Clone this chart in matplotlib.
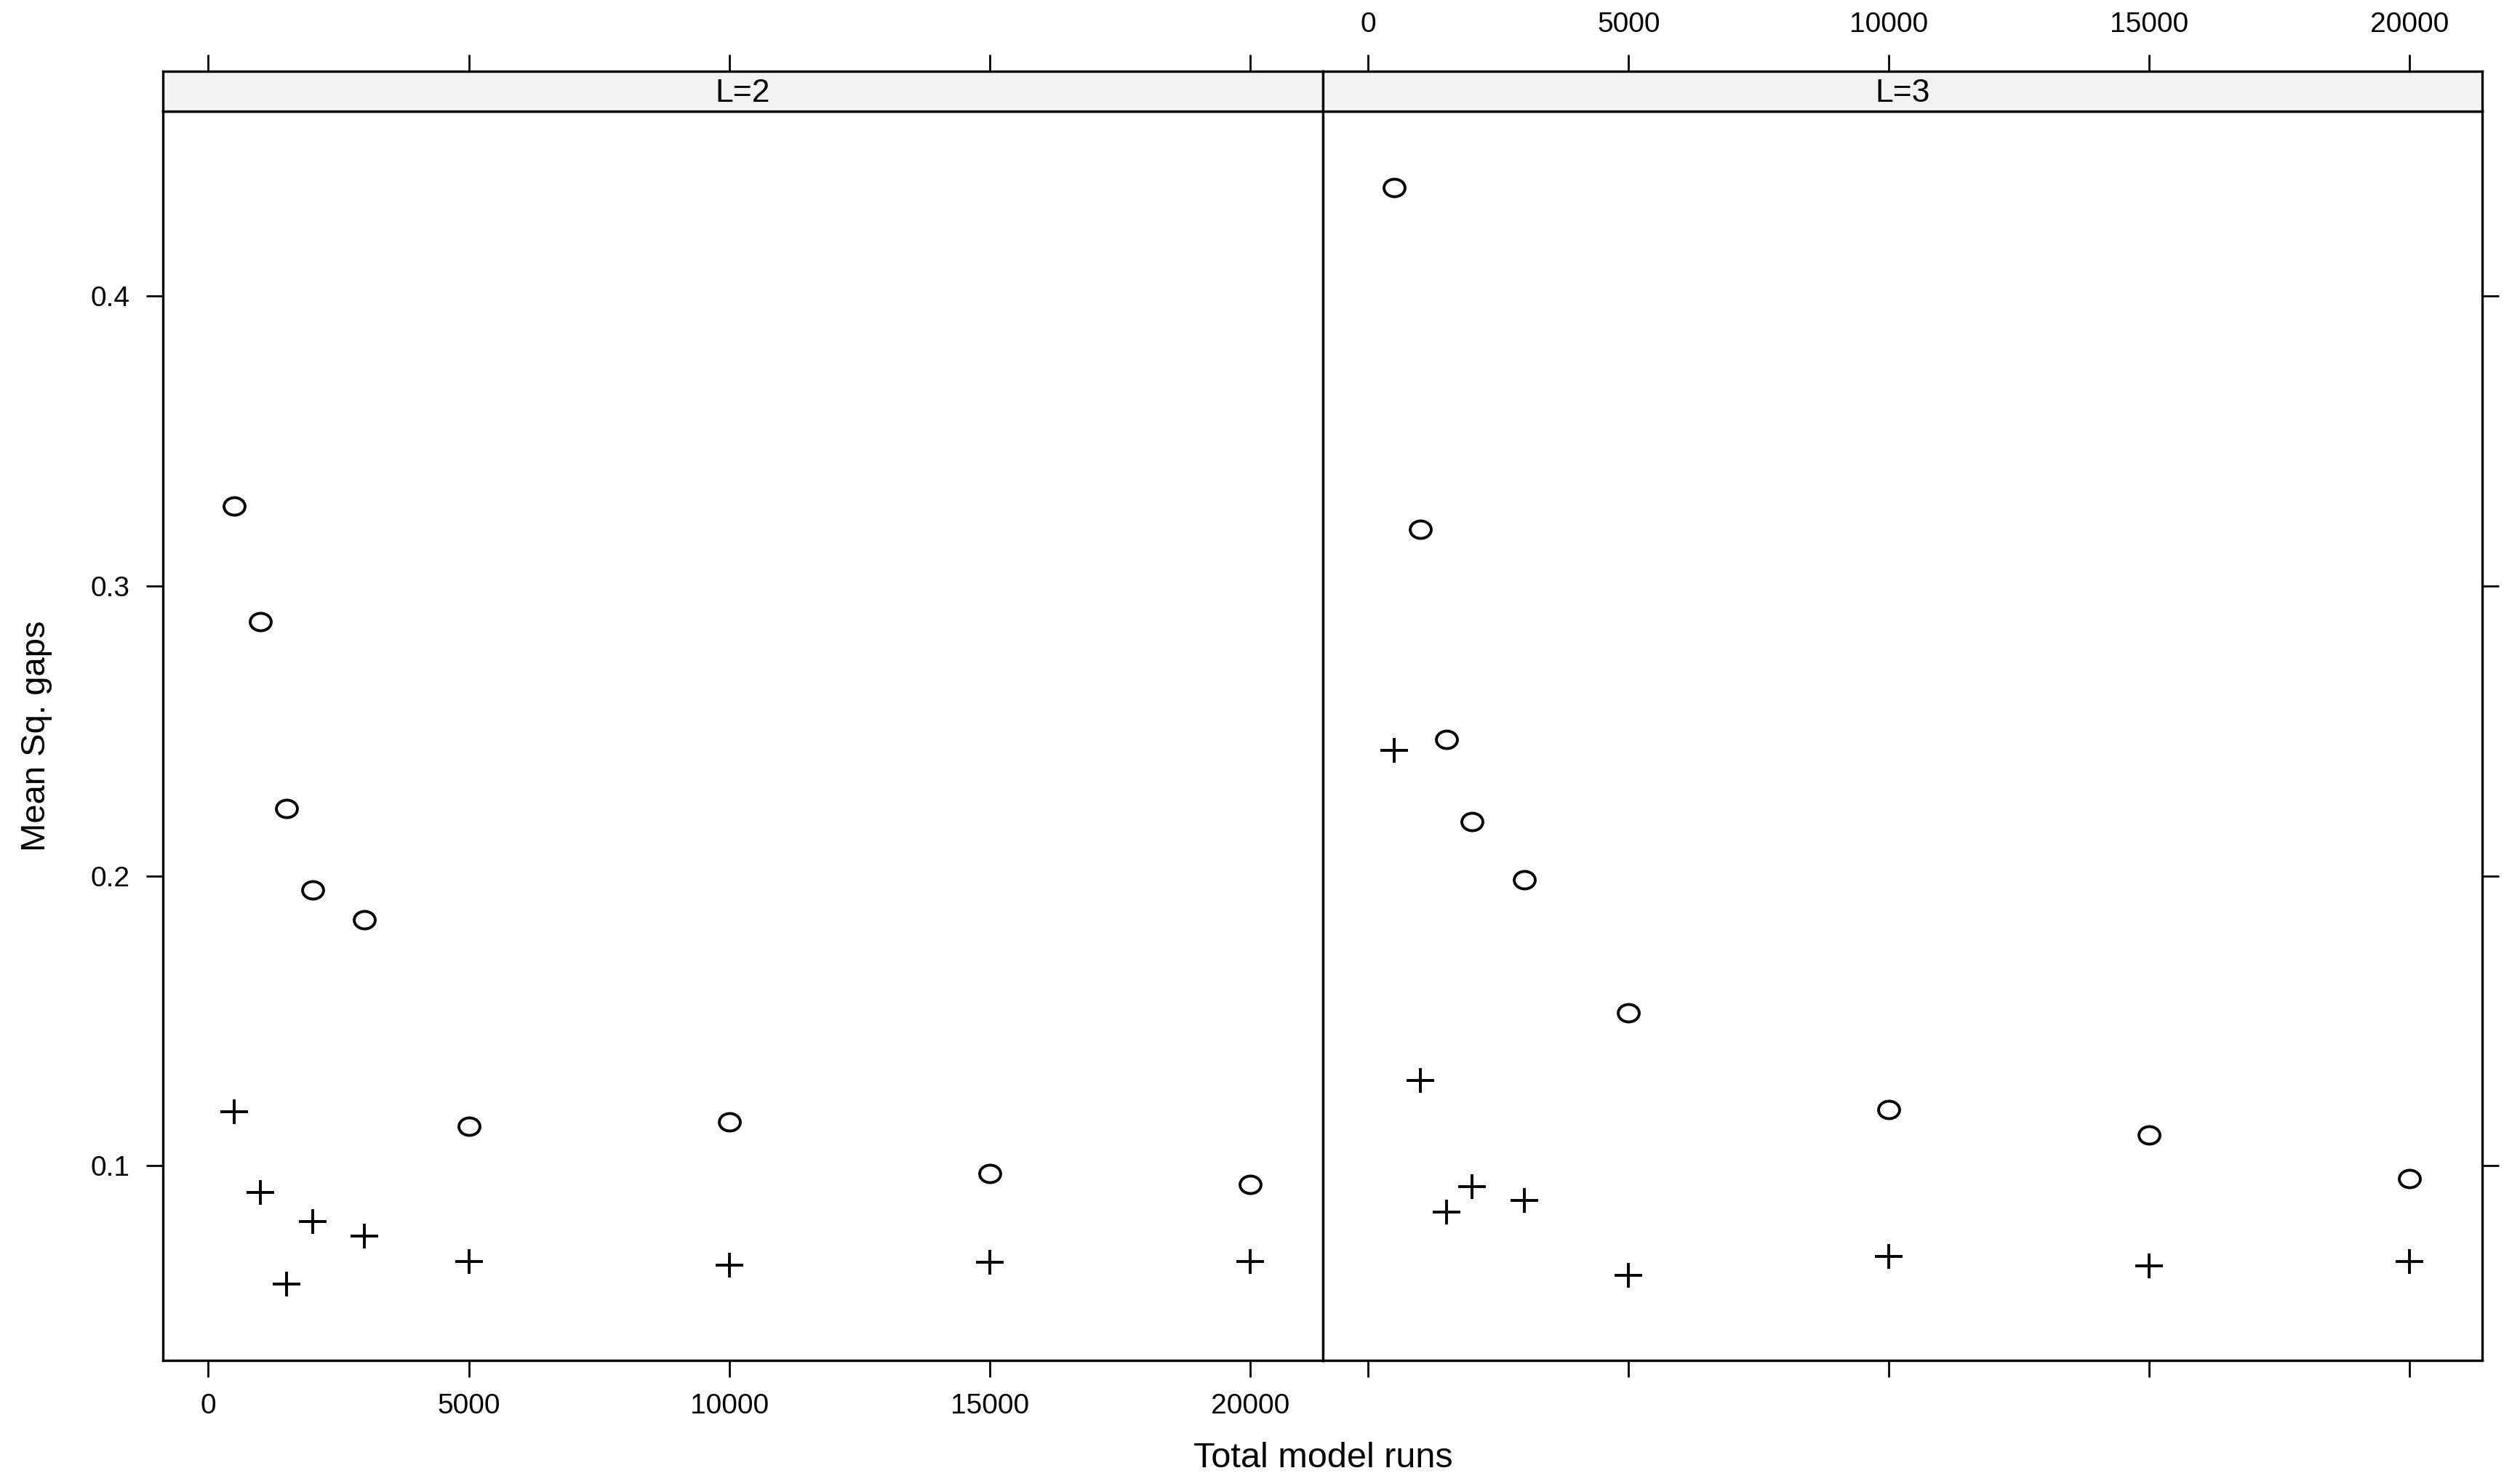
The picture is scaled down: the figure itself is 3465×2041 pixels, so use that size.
import numpy as np
import matplotlib
matplotlib.use("Agg")
import matplotlib.pyplot as plt
from matplotlib.path import Path

plt.rcParams['font.family'] = ['Liberation Sans', 'DejaVu Sans']

# data
runs = [500, 1000, 1500, 2000, 3000, 5000, 10000, 15000, 20000]

# L=2 panel
l2_circ = [0.3276, 0.2878, 0.2231, 0.1952, 0.1848, 0.1137, 0.1151, 0.0973, 0.0935]
l2_plus = [0.1186, 0.0907, 0.0591, 0.0807, 0.0756, 0.0670, 0.0657, 0.0667, 0.0670]

# L=3 panel
l3_circ = [0.4375, 0.3196, 0.2470, 0.2188, 0.1986, 0.1528, 0.1194, 0.1106, 0.0956]
l3_plus = [0.2434, 0.1294, 0.0841, 0.0927, 0.0881, 0.0622, 0.0686, 0.0653, 0.0669]

panels = ['L=2', 'L=3']
xticks = [0, 5000, 10000, 15000, 20000]
yticks = [0.1, 0.2, 0.3, 0.4]

# slightly wide markers, like the original render
circ = Path.unit_circle()
circ = Path(circ.vertices * [1.2, 1.0], circ.codes)
plus = Path([[-1.15, 0], [1.15, 0], [0, -1], [0, 1]],
            [Path.MOVETO, Path.LINETO, Path.MOVETO, Path.LINETO])

fig = plt.figure(figsize=(17.33, 10.205), dpi=200)

x0 = 0.06463
xm = 0.5248
x1 = 0.98471
bot = 0.08329
top = 0.92504
stop = 0.95213

lw = 1.2
tick_len = 8.3
fs = 14

data = [(l2_circ, l2_plus), (l3_circ, l3_plus)]
lefts = [x0, xm]
widths = [xm - x0, x1 - xm]

for i in range(2):
    ax = fig.add_axes([lefts[i], bot, widths[i], top - bot])
    sax = fig.add_axes([lefts[i], top, widths[i], stop - top], sharex=ax)

    yc, yp = data[i]
    ax.plot(runs, yc, linestyle='none', marker=circ, markersize=10.4,
            markerfacecolor='none', markeredgecolor='black', markeredgewidth=1.4)
    ax.plot(runs, yp, linestyle='none', marker=plus, markersize=14,
            markeredgecolor='black', markeredgewidth=1.4)

    ax.set_xlim(-870, 21390)
    ax.set_ylim(0.0328, 0.4638)

    for s in ax.spines.values():
        s.set_linewidth(lw)
    for s in sax.spines.values():
        s.set_linewidth(lw)

    ax.set_xticks(xticks)
    ax.set_yticks(yticks)
    ax.tick_params(axis='both', direction='out', length=tick_len, width=1.0,
                   labelsize=fs, pad=8)
    ax.tick_params(axis='x', top=False, labeltop=False,
                   bottom=True, labelbottom=(i == 0))
    if i == 0:
        ax.tick_params(axis='y', left=True, labelleft=True, right=False, labelright=False)
        ax.set_yticklabels(['0.1', '0.2', '0.3', '0.4'])
    else:
        ax.tick_params(axis='y', left=False, labelleft=False, right=True, labelright=False)

    # strip
    sax.set_facecolor('#F2F2F2')
    sax.set_yticks([])
    sax.tick_params(axis='x', direction='out', length=tick_len, width=1.0,
                    labelsize=fs, pad=8, bottom=False, labelbottom=False,
                    top=True, labeltop=(i == 1))
    sax.text(0.5, 0.45, panels[i], transform=sax.transAxes, ha='center',
             va='center', fontsize=16)

fig.text(0.0144, (bot + top) / 2, 'Mean Sq. gaps', rotation=90,
         ha='center', va='center', fontsize=17)
fig.text(xm, 0.0176, 'Total model runs', ha='center', va='center', fontsize=17.5)

fig.savefig('out.png', dpi=200, facecolor='white')
